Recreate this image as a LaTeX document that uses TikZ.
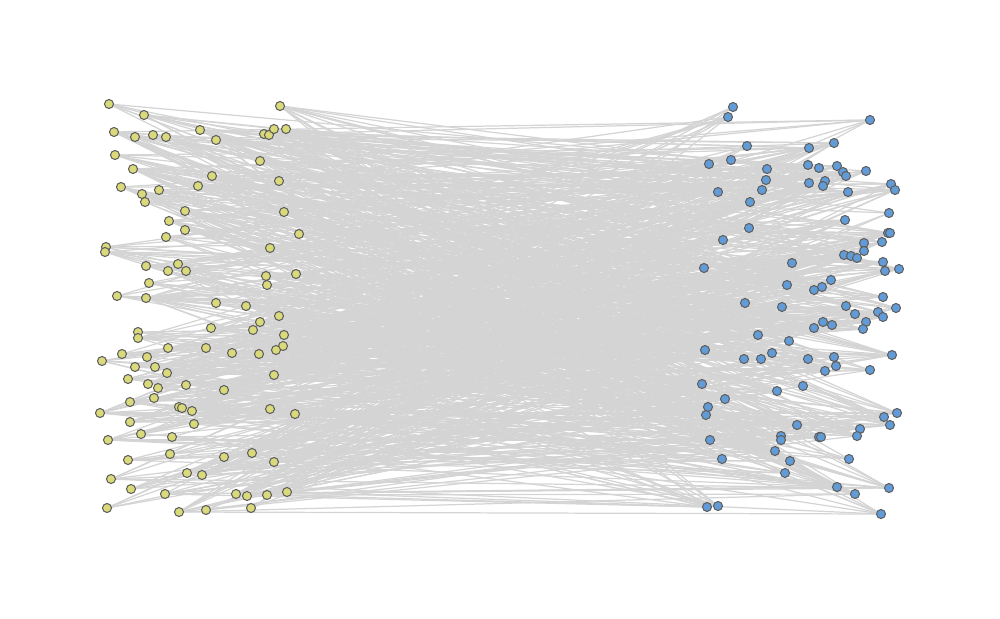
\documentclass[tikz,border=0pt]{standalone}
\usepackage{xcolor}
\usepackage{tikz}
\usetikzlibrary{backgrounds}
\definecolor{setyellow}{RGB}{218,218,122}
\definecolor{setblue}{RGB}{98,156,216}
\definecolor{rimgray}{RGB}{95,95,95}
\definecolor{linkgray}{RGB}{212,212,212}

\begin{document}
\begin{tikzpicture}[
    x=0.01cm, y=-0.01cm,
    leftnode/.style={circle, draw=rimgray, fill=setyellow, line width=0.3pt, minimum size=0.09cm, inner sep=0pt},
    rightnode/.style={circle, draw=rimgray, fill=setblue, line width=0.3pt, minimum size=0.09cm, inner sep=0pt},
    link/.style={draw=linkgray, line width=0.35pt}
]

\useasboundingbox (0,0) rectangle (1000,618);

\foreach [count=\i] \px/\py in {109/104,144/115,280/106,114/132,135/137,153/135,166/137,200/130,216/140,264/134,
    269/135,274/129,286/129,115/155,133/169,260/161,212/176,279/181,121/187,142/194,
    145/202,159/190,198/186,185/211,284/212,169/221,185/230,299/234,166/237,106/247,
    105/252,270/248,146/266,178/264,168/271,186/271,149/283,266/276,267/285,296/274,
    117/296,146/298,216/303,246/306,279/316,260/322,211/328,253/330,284/335,283/346,
    276/350,138/332,138/338,168/348,206/348,232/353,259/354,122/354,147/357,102/361,
    135/367,155/367,167/373,128/379,148/384,158/388,186/385,224/390,274/375,154/398,
    130/402,100/413,179/407,182/408,192/411,194/424,270/409,295/414,130/422,141/434,
    172/437,108/440,170/454,224/457,252/453,274/462,128/460,111/479,187/473,202/475,
    131/489,165/494,236/494,247/496,267/495,287/492,107/508,179/512,206/510,251/508}
    \node[leftnode] (l\i) at (\px,\py) {};

\foreach [count=\i] \px/\py in {733/107,728/117,870/120,747/146,834/143,809/148,709/164,731/160,767/169,766/180,
    762/190,808/165,819/168,837/166,843/172,846/176,866/171,809/183,825/181,823/186,
    848/192,891/184,895/190,718/192,750/202,889/213,845/220,749/228,723/240,888/233,
    890/233,864/243,882/242,864/251,844/255,851/256,857/258,704/268,792/263,883/262,
    885/271,899/269,787/285,831/280,822/287,814/290,883/297,745/303,782/307,846/306,
    855/314,878/312,883/317,896/308,866/322,863/329,823/322,832/325,814/328,758/335,
    789/341,705/350,744/359,761/359,772/353,808/359,834/357,836/366,825/371,870/370,
    892/355,702/384,777/391,803/386,725/399,708/407,706/415,797/425,781/436,781/440,
    819/437,821/437,860/429,857/436,884/417,897/413,890/425,710/440,775/451,790/461,
    722/459,785/473,849/459,837/487,855/494,889/488,707/507,718/506,881/514}
    \node[rightnode] (r\i) at (\px,\py) {};

\begin{scope}[on background layer]
\pgfmathsetseed{4711}
\foreach \e in {1,...,900}{
    \pgfmathrandominteger{\a}{1}{100}
    \pgfmathrandominteger{\b}{1}{99}
    \draw[link] (l\a.center) -- (r\b.center);
}
\end{scope}

\end{tikzpicture}
\end{document}
